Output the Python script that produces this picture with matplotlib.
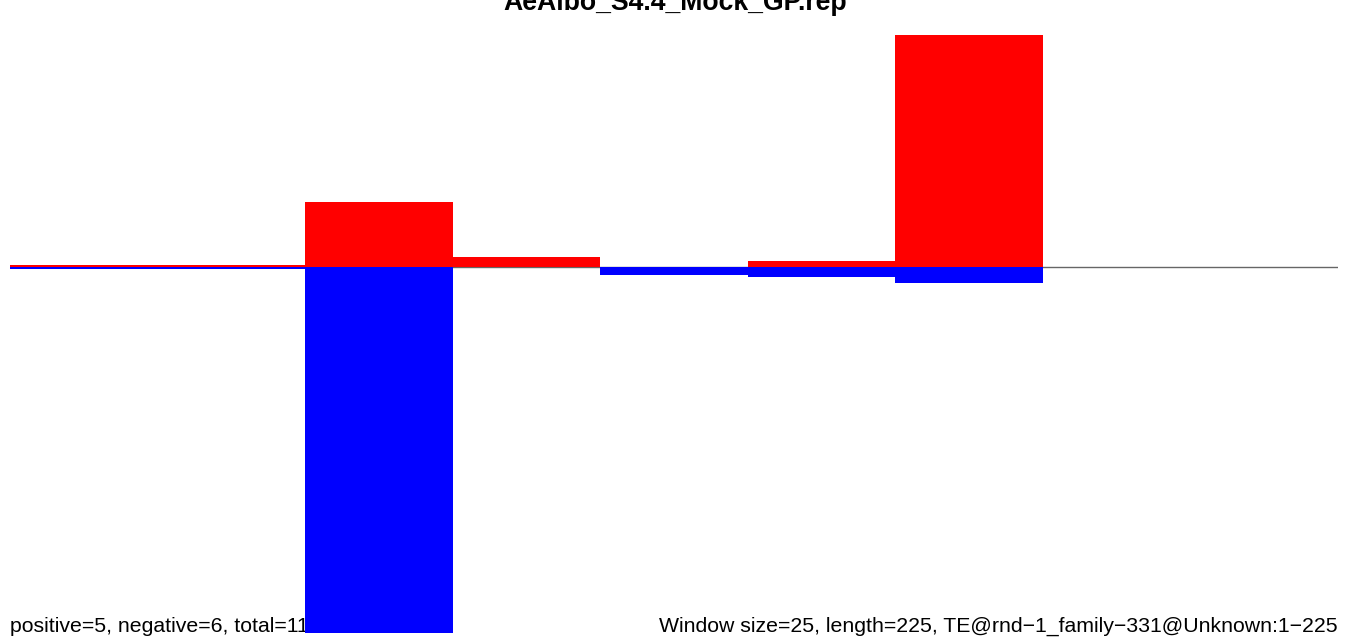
# Sliding-window positive/negative bar chart for a TE entry
import numpy as np
import matplotlib.pyplot as plt

plt.rcParams['font.family'] = ['Liberation Sans', 'DejaVu Sans']

title = 'AeAlbo_S4.4_Mock_GP.rep'
window_size = 25
length = 225
window_starts = [0, 25, 50, 75, 100, 125, 150, 175, 200]
positive_vals = [2, 2, 65, 10, 0, 6, 232, 0, 0]
negative_vals = [-2, -2, -366, 0, -8, -10, -16, 0, 0]
left_note = 'positive=5, negative=6, total=11'
right_note = ('Window size=25, length=225, '
              'TE@rnd\u22121_family\u2212331@Unknown:1\u2212225')

fig = plt.figure(figsize=(13.5, 6.44), dpi=100)
ax = fig.add_axes([10 / 1350, 1 - 633 / 644, 1328 / 1350, 598 / 644])

ax.axhline(0, color='#666666', lw=1, zorder=1)
ax.bar(window_starts, positive_vals, width=window_size, align='edge',
       color='#ff0000', linewidth=0, zorder=2)
ax.bar(window_starts, negative_vals, width=window_size, align='edge',
       color='#0000ff', linewidth=0, zorder=2)

ax.set_xlim(0, length)
ax.set_ylim(min(negative_vals), max(positive_vals))
ax.axis('off')

# bottom notes sit under the bars (the blue bar covers part of "11")
base_y = 1 - 632 / 644
fig.text(10 / 1350, base_y, left_note, ha='left', va='baseline',
         fontsize=15.3, zorder=-1)
fig.text(1338 / 1350, base_y, right_note, ha='right', va='baseline',
         fontsize=15.3, zorder=-1)
fig.text(0.5, 1 - 9.5 / 644, title, ha='center', va='baseline',
         fontsize=19.2, fontweight='bold')

fig.savefig('out.png', dpi=100)
